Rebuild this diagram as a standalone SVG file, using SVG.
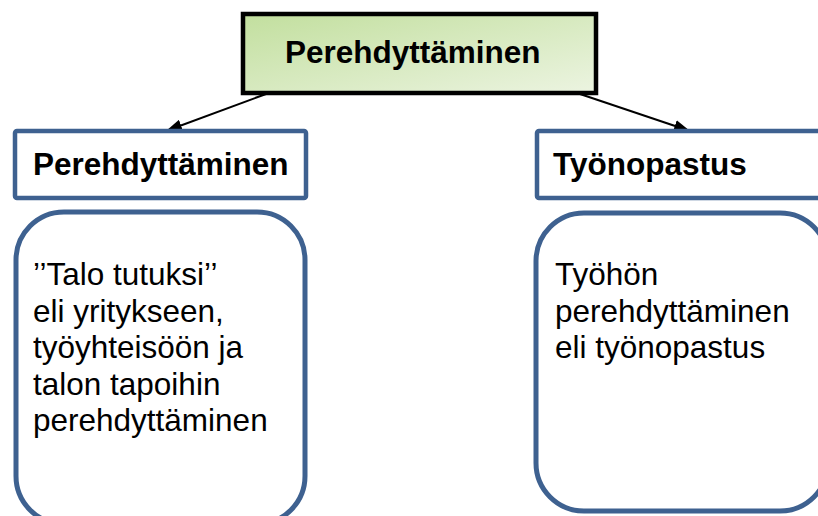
<svg xmlns="http://www.w3.org/2000/svg" width="818" height="516" viewBox="0 0 818 516">
<style>
.hdr{fill:#fff;stroke:#3e6190;stroke-width:4.5}
.card{fill:#fff;stroke:#3e6190;stroke-width:5}
.bold{font-family:"Liberation Sans",Arial,sans-serif;font-weight:bold;font-size:31.5px;fill:#000}
.reg{font-family:"Liberation Sans",Arial,sans-serif;font-size:31.5px;fill:#000}
.conn{stroke:#000;stroke-width:2;fill:none}
</style>
<defs>
<linearGradient id="g" x1="0" y1="0" x2="1" y2="1">
<stop offset="0" stop-color="#c2df9e"/>
<stop offset="1" stop-color="#ecf4e1"/>
</linearGradient>
<marker id="ah" viewBox="0 0 16 12" refX="16" refY="6" markerWidth="16" markerHeight="12" markerUnits="userSpaceOnUse" orient="auto">
<path d="M0,0 L16,6 L0,12 z" fill="#000"/>
</marker>
</defs>
<g id="connectors">
<line class="conn" x1="266" y1="94" x2="166" y2="131" marker-end="url(#ah)"/>
<line class="conn" x1="580" y1="94" x2="690" y2="131" marker-end="url(#ah)"/>
</g>
<g id="root">
<rect x="243" y="14" width="353" height="79" fill="url(#g)" stroke="#000" stroke-width="4.5"/>
<text class="bold" x="285" y="63">Perehdyttäminen</text>
</g>
<g id="hdr-left">
<rect class="hdr" x="15" y="131" width="291" height="67" rx="2"/>
<text class="bold" x="33" y="175">Perehdyttäminen</text>
</g>
<g id="hdr-right">
<rect class="hdr" x="537" y="131" width="300" height="67" rx="2"/>
<text class="bold" x="553" y="175">Työnopastus</text>
</g>
<g id="card-left">
<rect class="card" x="16" y="212" width="289" height="312" rx="48"/>
<text class="reg" x="33" y="285">’’Talo tutuksi’’</text>
<text class="reg" x="33" y="321.5">eli yritykseen,</text>
<text class="reg" x="33" y="358">työyhteisöön ja</text>
<text class="reg" x="33" y="394.5">talon tapoihin</text>
<text class="reg" x="33" y="431">perehdyttäminen</text>
</g>
<g id="card-right">
<rect class="card" x="536" y="213" width="292" height="298" rx="48"/>
<text class="reg" x="555" y="285">Työhön</text>
<text class="reg" x="555" y="321.5">perehdyttäminen</text>
<text class="reg" x="555" y="358">eli työnopastus</text>
</g>
</svg>
